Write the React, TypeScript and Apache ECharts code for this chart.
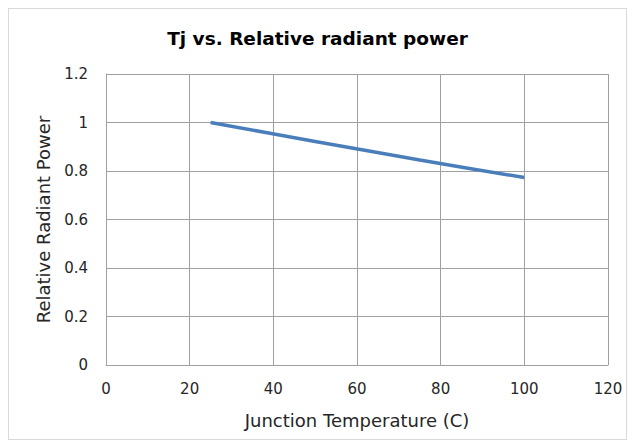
import React, { useEffect, useRef } from "react";
import * as echarts from "echarts";

const temps = [25, 50, 75, 100];
const relPower = [1.0, 0.922, 0.845, 0.773];
const title = "Tj vs. Relative radiant power";
const xName = "Junction Temperature (C)";
const yName = "Relative Radiant Power";

export default function App() {
  const ref = useRef<HTMLDivElement>(null);
  useEffect(() => {
    if (!ref.current) return;
    const chart = echarts.init(ref.current, null, { renderer: "svg" });
    const font = "'DejaVu Sans', Lato, sans-serif";
    chart.setOption({
      animation: false,
      title: {
        text: title,
        left: "center",
        top: 15,
        textStyle: { fontFamily: font, fontSize: 18.5, fontWeight: "bold", color: "#000" },
      },
      grid: { left: 97, right: 18, top: 65, bottom: 74 },
      xAxis: {
        type: "value",
        min: 0,
        max: 120,
        interval: 20,
        name: xName,
        nameLocation: "middle",
        nameGap: 46,
        nameTextStyle: { fontFamily: font, fontSize: 18, color: "#262626" },
        axisLine: { show: true, lineStyle: { color: "#a0a0a0", width: 1 } },
        axisTick: { show: false },
        axisLabel: { fontFamily: font, fontSize: 15, color: "#262626", margin: 16 },
        splitLine: { show: true, lineStyle: { color: "#a0a0a0", width: 1 } },
      },
      yAxis: {
        type: "value",
        min: 0,
        max: 1.2,
        interval: 0.2,
        name: yName,
        nameLocation: "middle",
        nameGap: 54,
        nameTextStyle: { fontFamily: font, fontSize: 18, color: "#262626" },
        axisLine: { show: true, lineStyle: { color: "#a0a0a0", width: 1 } },
        axisTick: { show: false },
        axisLabel: {
          fontFamily: font,
          fontSize: 15,
          color: "#262626",
          margin: 18,
          formatter: (v: number) => String(Math.round(v * 10) / 10),
        },
        splitLine: { show: true, lineStyle: { color: "#a0a0a0", width: 1 } },
      },
      series: [
        {
          type: "line",
          data: temps.map((t, i) => [t, relPower[i]]),
          showSymbol: false,
          smooth: 0.3,
          lineStyle: { color: "#4a7ebb", width: 3.5 },
        },
      ],
    });
    return () => chart.dispose();
  }, []);
  return (
    <div
      ref={ref}
      style={{
        width: 619,
        height: 432,
        border: "1px solid #d9d9d9",
        boxSizing: "border-box",
        background: "#fff",
      }}
    />
  );
}
